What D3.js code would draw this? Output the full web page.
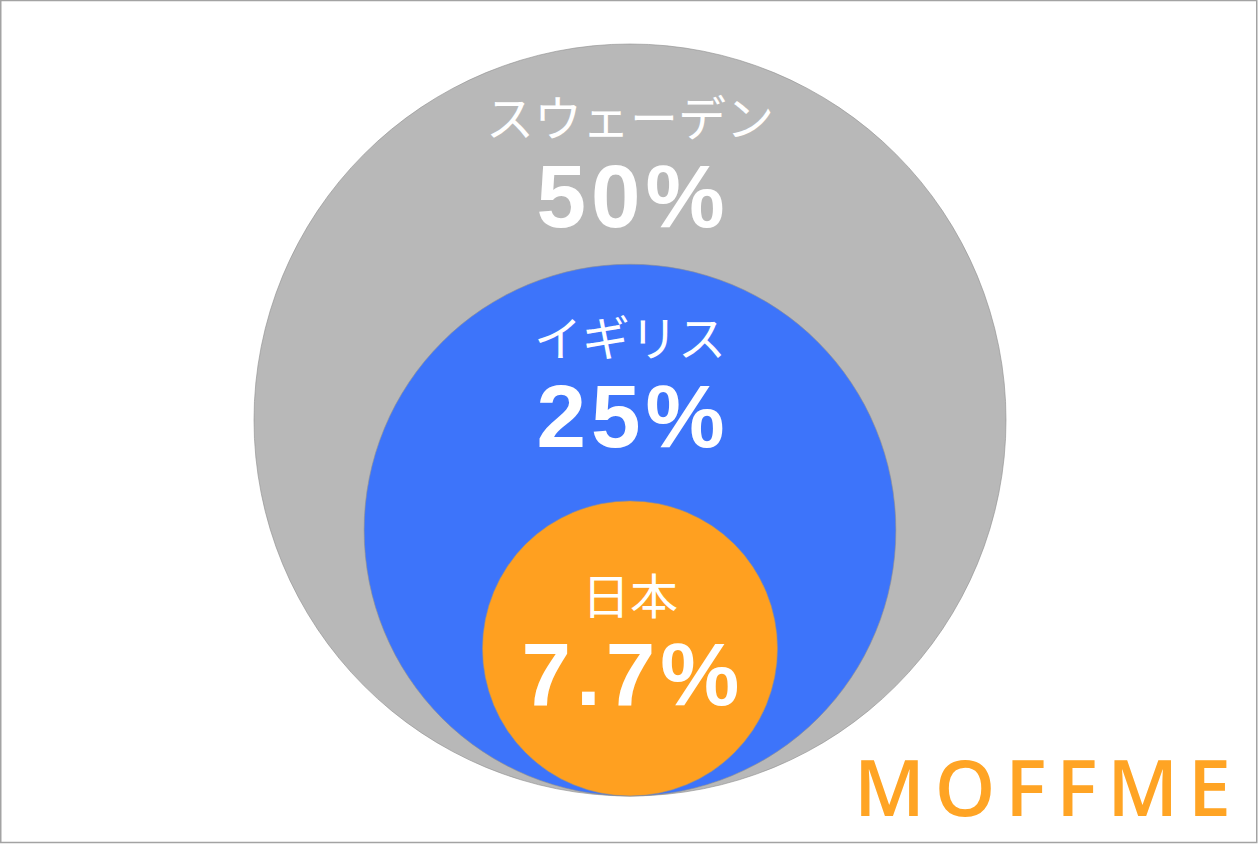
<!DOCTYPE html>
<html>
<head>
<meta charset="utf-8">
<script src="https://cdn.jsdelivr.net/npm/d3@7"></script>
<style>
  html, body { margin: 0; padding: 0; background: #fff; }
  svg { display: block; }
</style>
</head>
<body>
<svg id="chart"></svg>
<script>
var width = 1259, height = 844;

// data: share per country, biggest first (circles are nested, bottom aligned)
var countries = ["スウェーデン", "イギリス", "日本"];
var shares = [50, 25, 7.7];
var shareLabels = ["50%", "25%", "7.7%"];
var colors = ["#b8b8b8", "#3d74fa", "#ffa020"];

var svg = d3.select("#chart")
    .attr("width", width)
    .attr("height", height);

// frame
svg.append("rect")
    .attr("x", 0.75)
    .attr("y", 0.5)
    .attr("width", width - 3)
    .attr("height", height - 2)
    .style("fill", "#fff")
    .style("stroke", "#a3a3a3")
    .style("stroke-width", 1.5);

// area proportional radius
var rScale = d3.scaleSqrt().domain([0, d3.max(shares)]).range([0, 376]);
var cx = 630, bottomY = 796;

var rings = shares.map(function(v, i) {
    var r = rScale(v);
    return {name: countries[i], label: shareLabels[i], color: colors[i], r: r, cy: bottomY - r, top: bottomY - 2 * r};
});

// text pair sits a fixed distance under the top of each ring, innermost one at its centre
rings.forEach(function(d, i) {
    d.mid = i < rings.length - 1 ? d.top + 118 : d.cy - 8;
});

var gCircles = svg.append("g"), gText = svg.append("g");

gCircles.selectAll("circle")
    .data(rings)
    .join("circle")
    .attr("cx", cx)
    .attr("cy", function(d) { return d.cy; })
    .attr("r", function(d) { return d.r; })
    .style("fill", function(d) { return d.color; })
    .style("stroke", "#8f8f8f")
    .style("stroke-opacity", 0.6)
    .style("stroke-width", 1);

gText.selectAll("text.name")
    .data(rings)
    .join("text")
    .attr("class", "name")
    .attr("x", cx)
    .attr("y", function(d) { return d.mid - 26; })
    .attr("text-anchor", "middle")
    .style("font-family", "'Noto Sans CJK JP', 'Noto Sans', sans-serif")
    .style("font-weight", 400)
    .style("font-size", "48px")
    .style("fill", "#fff")
    .text(function(d) { return d.name; });

gText.selectAll("text.value")
    .data(rings)
    .join("text")
    .attr("class", "value")
    .attr("x", cx + 3)
    .attr("y", function(d) { return d.mid + 65; })
    .attr("text-anchor", "middle")
    .style("font-family", "'Liberation Sans', Arial, sans-serif")
    .style("font-weight", 700)
    .style("font-size", "89px")
    .style("letter-spacing", "5px")
    .style("fill", "#fff")
    .text(function(d) { return d.label; });

// logo
svg.append("text")
    .attr("x", 854)
    .attr("y", 816)
    .attr("textLength", 377)
    .attr("lengthAdjust", "spacing")
    .style("font-family", "'Open Sans', 'Noto Sans', sans-serif")
    .style("font-weight", 600)
    .style("font-size", "77px")
    .style("fill", "#ffa424")
    .text("MOFFME");
</script>
</body>
</html>
